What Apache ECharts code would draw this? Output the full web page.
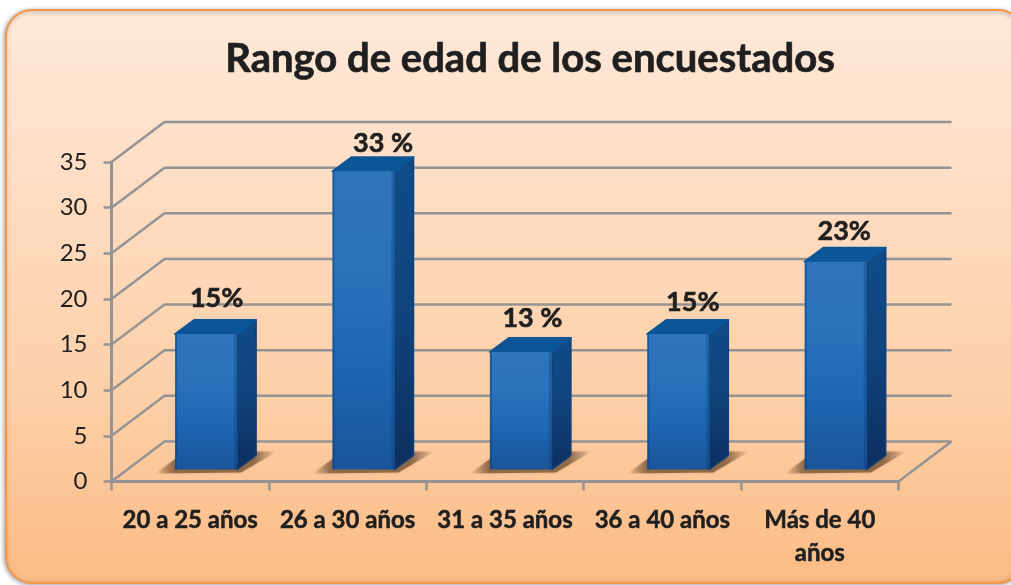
<!DOCTYPE html>
<html>
<head>
<meta charset="utf-8">
<title>Rango de edad de los encuestados</title>
<script src="https://cdn.jsdelivr.net/npm/echarts@6/dist/echarts.min.js"></script>
<style>
  html, body { margin: 0; padding: 0; background: #fff; }
  #chart { width: 1011px; height: 585px; }
</style>
</head>
<body>
<div id="chart"></div>
<script>
const categories = ["20 a 25 años", "26 a 30 años", "31 a 35 años", "36 a 40 años", "Más de 40\naños"];
const values = [15, 33, 13, 15, 23];
const valueLabels = ["15%", "33 %", "13 %", "15%", "23%"];
const yTicks = [0, 5, 10, 15, 20, 25, 30, 35];

const fontName = "Lato";
const textColor = "#1f1f1f";
const wallDx = 53;
const wallDy = 40;
const barFrontDepth = 0.3; // 柱子前面在地板上的深度比例
const barScale = 0.99;
const barWidth = 62;
const barDx = 19;
const barDy = 14;
// 数据标签是手动摆放的，每个偏移不同
const labelShiftX = [1, 10, 2, 5, -1];
const labelShiftY = [-4, 4, -2, 0, 2];

const chart = echarts.init(document.getElementById("chart"));

function vGrad(stops) {
  return new echarts.graphic.LinearGradient(0, 0, 0, 1, stops.map((c, i) => ({ offset: i / (stops.length - 1), color: c })));
}

// 侧面和背面的网格线
function renderWall(params, api) {
  const tick = api.value(0);
  const y = api.coord([0, tick])[1];
  const left = params.coordSys.x;
  const right = left + params.coordSys.width;
  const lineStyle = { stroke: "#949494", lineWidth: 2.5, fill: null };
  const children = [{
    type: "polyline",
    shape: { points: [[left, y], [left + wallDx, y - wallDy], [right + wallDx, y - wallDy]] },
    style: lineStyle,
  }];
  if (tick === 0) {
    children.push({
      type: "line",
      shape: { x1: right, y1: y, x2: right + wallDx, y2: y - wallDy },
      style: lineStyle,
    });
  }
  return { type: "group", children };
}

// 立体柱子
function renderBar(params, api) {
  const i = api.value(0);
  const base = api.coord([i, 0]);
  const top = api.coord([i, api.value(1) * barScale]);
  const x0 = base[0] - barWidth / 2 + barFrontDepth * wallDx;
  const x1 = x0 + barWidth;
  const y0 = base[1] - barFrontDepth * wallDy;
  const y1 = top[1] - barFrontDepth * wallDy;
  return {
    type: "group",
    children: [
      {
        type: "polygon",
        shape: { points: [[x0 - 20, y0 + 4], [x0 + 2, y0 - 12], [x1 + barDx, y0 - barDy - 4], [x1 + barDx + 21, y0 - barDy - 4], [x1 + 4, y0 + 3]] },
        style: {
          fill: new echarts.graphic.LinearGradient(0, 0, 1, 0, [
            { offset: 0, color: "rgba(110,75,45,0)" },
            { offset: 0.16, color: "rgba(110,75,45,0.7)" },
            { offset: 0.8, color: "rgba(110,75,45,0.7)" },
            { offset: 1, color: "rgba(110,75,45,0)" },
          ]),
          shadowBlur: 3,
          shadowColor: "rgba(110,75,45,0.35)",
        },
      },
      {
        type: "polygon",
        shape: { points: [[x1, y1], [x1 + barDx, y1 - barDy], [x1 + barDx, y0 - barDy], [x1, y0]] },
        style: { fill: vGrad(["#0f4c89", "#10437c", "#0d2f5f"]), stroke: "#0f4079", lineWidth: 1.5, lineJoin: "round" },
      },
      {
        type: "polygon",
        shape: { points: [[x0, y1], [x0 + barDx, y1 - barDy], [x1 + barDx, y1 - barDy], [x1, y1]] },
        style: { fill: "#0c5596", stroke: "#0c5596", lineWidth: 2, lineJoin: "round" },
      },
      {
        type: "rect",
        shape: { x: x0, y: y1, width: barWidth, height: y0 - y1, r: 1 },
        style: { fill: vGrad(["#2f75bc", "#2a72ba", "#1d66b2", "#1a5599"]) },
      },
      {
        type: "rect",
        shape: { x: x0, y: y1, width: 2, height: y0 - y1 },
        style: { fill: "rgba(10,60,120,0.45)" },
      },
      {
        type: "rect",
        shape: { x: x1 - 3, y: y1, width: 3, height: y0 - y1 },
        style: { fill: "rgba(10,60,120,0.35)" },
      },
      {
        type: "text",
        style: {
          x: x0 + (barWidth + barDx) / 2 + labelShiftX[params.dataIndex],
          y: y1 - barDy - 18 + labelShiftY[params.dataIndex],
          text: valueLabels[params.dataIndex],
          align: "center",
          verticalAlign: "middle",
          fontFamily: fontName,
          fontWeight: "bold",
          fontSize: 27,
          fill: textColor,
          stroke: textColor,
          lineWidth: 0.6,
        },
      },
    ],
  };
}

const option = {
  animation: false,
  backgroundColor: "#ffffff",
  textStyle: { fontFamily: fontName },
  graphic: [{
    type: "rect",
    z: -10,
    shape: { x: 6, y: 10, width: 1018, height: 573, r: 26 },
    style: {
      fill: vGrad(["#fee9da", "#fedcc1", "#fdd0a8", "#fbbb84"]),
      stroke: "#f79646",
      lineWidth: 2,
      shadowBlur: 4,
      shadowOffsetX: -1,
      shadowOffsetY: 1,
      shadowColor: "rgba(60,70,90,0.45)",
    },
  }],
  title: {
    text: "Rango de edad de los encuestados",
    left: 525,
    top: 34,
    textAlign: "center",
    textStyle: { fontFamily: fontName, fontWeight: "bold", fontSize: 40, color: textColor, textBorderColor: textColor, textBorderWidth: 0.7 },
  },
  grid: { left: 111.5, right: 112.5, top: 162, bottom: 103.5 },
  xAxis: {
    type: "category",
    data: categories,
    boundaryGap: true,
    axisLine: { lineStyle: { color: "#949494", width: 3 } },
    axisTick: { show: true, alignWithLabel: false, length: 9, lineStyle: { color: "#949494", width: 2.5 } },
    axisLabel: { interval: 0, margin: 22, fontFamily: fontName, fontWeight: "bold", fontSize: 24, lineHeight: 33, color: textColor, textBorderColor: textColor, textBorderWidth: 0.5 },
  },
  yAxis: {
    type: "value",
    min: 0,
    max: 35,
    interval: 5,
    splitLine: { show: false },
    axisLine: { show: true, lineStyle: { color: "#949494", width: 3 } },
    axisTick: { show: true, length: 8, lineStyle: { color: "#949494", width: 2.5 } },
    axisLabel: { margin: 24, fontFamily: fontName, fontSize: 24, color: textColor },
  },
  series: [
    {
      type: "custom",
      name: "paredes",
      clip: false,
      z: 1,
      renderItem: renderWall,
      encode: { y: 0 },
      data: yTicks.map((t) => [t]),
    },
    {
      type: "custom",
      name: "encuestados",
      clip: false,
      z: 3,
      renderItem: renderBar,
      encode: { x: 0, y: 1 },
      data: values.map((v, i) => [i, v]),
    },
  ],
};
chart.setOption(option);
</script>
</body>
</html>
